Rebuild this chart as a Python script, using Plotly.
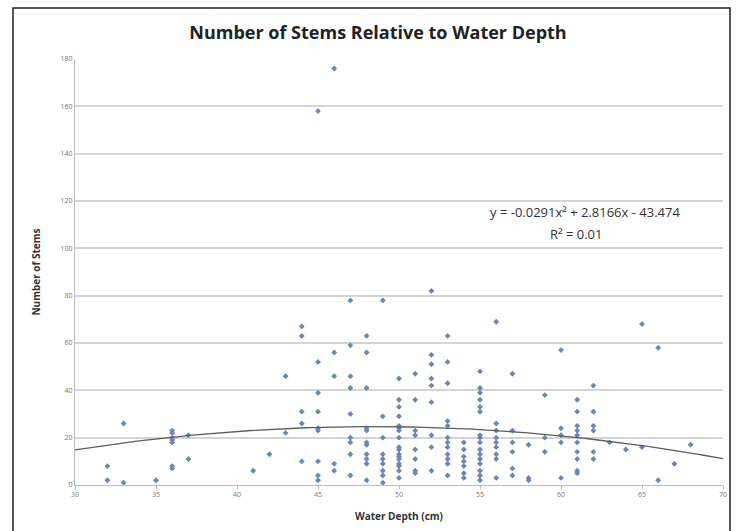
import plotly.graph_objects as go
import numpy as np

# Water depth (cm) and number of stems
depth_values = [32, 33, 35, 36, 37, 41, 42, 43, 44, 45, 46, 47, 48, 49, 50, 51, 52, 53, 54, 55,
                56, 57, 58, 59, 60, 61, 62, 63, 64, 65, 66, 67, 68]
stems_by_depth = [
    [8, 2],
    [26, 1],
    [2],
    [23, 22, 20, 19, 18, 8, 7],
    [21, 11],
    [6],
    [13],
    [46, 22],
    [67, 63, 31, 26, 10],
    [158, 52, 39, 31, 24, 23, 10, 4, 2],
    [176, 56, 46, 9, 6],
    [78, 59, 46, 41, 30, 20, 18, 13, 4],
    [63, 56, 41, 24, 23, 18, 17, 13, 11, 9, 2],
    [78, 29, 20, 13, 11, 9, 6, 4, 1],
    [45, 36, 33, 29, 25, 24, 23, 20, 16, 15, 13, 12, 11, 9, 8, 6, 3],
    [47, 36, 23, 21, 15, 11, 6, 5],
    [82, 55, 51, 45, 42, 35, 21, 16, 6],
    [63, 52, 43, 27, 25, 20, 18, 16, 13, 11, 9, 4],
    [18, 15, 12, 10, 8, 5, 3],
    [48, 41, 39, 36, 33, 31, 21, 20, 18, 15, 13, 11, 9, 6, 4, 2],
    [69, 26, 23, 20, 18, 16, 13, 11, 3],
    [47, 23, 18, 14, 7, 4],
    [17, 3, 2],
    [38, 20, 14],
    [57, 24, 21, 18, 3],
    [36, 31, 25, 23, 21, 18, 14, 11, 6, 5],
    [42, 31, 25, 23, 14, 11],
    [18],
    [15],
    [68, 16],
    [58, 2],
    [9],
    [17],
]

# Trendline coefficients shown on the chart
coef_a, coef_b, coef_c = -0.0291, 2.8166, -43.474

x_ticks = [30, 35, 40, 45, 50, 55, 60, 65, 70]
y_ticks = [0, 20, 40, 60, 80, 100, 120, 140, 160, 180]

xs, ys = [], []
for d, vals in zip(depth_values, stems_by_depth):
    for v in vals:
        xs.append(d)
        ys.append(v)

tx = np.linspace(30, 70, 200)
ty = coef_a * tx ** 2 + coef_b * tx + coef_c

fig = go.Figure()
fig.add_trace(go.Scatter(x=xs, y=ys, mode="markers",
                         marker=dict(symbol="diamond", size=4.5, color="#6a86b8"),
                         showlegend=False, cliponaxis=False))
fig.add_trace(go.Scatter(x=tx, y=ty, mode="lines",
                         line=dict(color="#5c5c5c", width=1.3),
                         showlegend=False))

W, H = 741, 531
L, R, T, B = 75, 18, 59, 46
pw, ph = W - L - R, H - T - B

def px_to_paper(x, y):
    return (x - L) / pw, (H - B - y) / ph

x0, y0 = px_to_paper(13, 8)
x1, y1 = px_to_paper(730, 560)

fig.update_layout(
    width=W, height=H,
    margin=dict(l=L, r=R, t=T, b=B),
    paper_bgcolor="white", plot_bgcolor="white",
    font=dict(family="Open Sans, sans-serif", color="#333333"),
    title=dict(text="<b>Number of Stems Relative to Water Depth</b>",
               x=(378) / W, xanchor="center", y=1 - 33 / H, yanchor="middle",
               font=dict(size=18, color="#222222", family="Open Sans, sans-serif")),
    xaxis=dict(range=[30, 70], tickvals=x_ticks, ticktext=[str(t) for t in x_ticks],
               showgrid=False, zeroline=False, showline=True, linecolor="#bbbbbb",
               ticks="outside", ticklen=3, tickcolor="#bbbbbb",
               tickfont=dict(size=7, color="#777777"),
               title=dict(text="<b>Water Depth (cm)</b>", font=dict(size=10, color="#333333"),
                          standoff=14)),
    yaxis=dict(range=[0, 180], tickvals=y_ticks, ticktext=[str(t) for t in y_ticks],
               showgrid=True, gridcolor="#d4d4d4", gridwidth=1.5, zeroline=False,
               showline=True, linecolor="#bbbbbb",
               tickfont=dict(size=7, color="#777777"),
               title=dict(text="<b>Number of Stems</b>", font=dict(size=10, color="#333333"),
                          standoff=18)),
    shapes=[dict(type="rect", xref="paper", yref="paper", x0=x0, y0=y1, x1=x1, y1=y0,
                 line=dict(color="#222222", width=1.5), fillcolor="rgba(0,0,0,0)", layer="above")],
    annotations=[
        dict(text="y = -0.0291x² + 2.8166x - 43.474", xref="x", yref="y", x=61.5, y=115.5,
             showarrow=False, font=dict(size=13, color="#333333")),
        dict(text="R² = 0.01", xref="x", yref="y", x=60.9, y=106,
             showarrow=False, font=dict(size=13, color="#333333")),
    ],
)

fig.write_html("out.html")
